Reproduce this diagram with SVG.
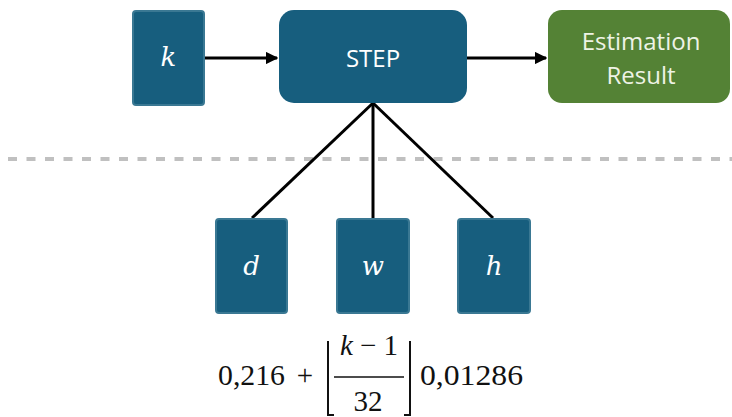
<svg xmlns="http://www.w3.org/2000/svg" width="732" height="417" viewBox="0 0 732 417">
<style>
.var{fill:#175e7e;stroke:#3a7893;stroke-width:2}
.vt{font-family:"DejaVu Serif","Liberation Serif",serif;font-style:italic;font-size:26px;fill:#ffffff;text-anchor:middle}
.lbl{font-family:"Open Sans","Liberation Sans",sans-serif;font-size:24px;text-anchor:middle}
.conn{stroke:#000;stroke-width:3;fill:none}
.math{font-family:"Liberation Serif","DejaVu Serif",serif;font-size:29px;fill:#111}
</style>
<defs>
<marker id="ah" viewBox="0 0 10 10" refX="9" refY="5" markerWidth="4.2" markerHeight="4.2" orient="auto" markerUnits="strokeWidth">
<path d="M0,0 L10,5 L0,10 z" fill="#000"/>
</marker>
</defs>
<line x1="8" y1="159" x2="732" y2="159" stroke="#c0c0c0" stroke-width="4" stroke-dasharray="9,9.5"/>
<g id="connectors">
<line class="conn" x1="204" y1="58" x2="277" y2="58" marker-end="url(#ah)"/>
<line class="conn" x1="467" y1="58" x2="546" y2="58" marker-end="url(#ah)"/>
<line class="conn" x1="373" y1="103" x2="252" y2="218"/>
<line class="conn" x1="373" y1="103" x2="373" y2="218"/>
<line class="conn" x1="373" y1="103" x2="493" y2="218"/>
</g>
<g id="node-k">
<rect class="var" x="133" y="11" width="71" height="94" rx="3"/>
<text class="vt" x="168.5" y="66">k</text>
</g>
<g id="node-step">
<rect x="279" y="10" width="188" height="93" rx="15" fill="#175e7e"/>
<text class="lbl" x="373" y="67" fill="#ffffff">STEP</text>
</g>
<g id="node-result">
<rect x="548" y="10" width="182" height="93" rx="14" fill="#548235"/>
<text class="lbl" x="641" y="50" fill="#eef3e6">Estimation</text>
<text class="lbl" x="641" y="84" fill="#eef3e6">Result</text>
</g>
<g id="node-d">
<rect class="var" x="216" y="219" width="71" height="94" rx="3"/>
<text class="vt" x="251.5" y="275">d</text>
</g>
<g id="node-w">
<rect class="var" x="337" y="219" width="72" height="94" rx="3"/>
<text class="vt" x="373" y="275">w</text>
</g>
<g id="node-h">
<rect class="var" x="458" y="219" width="72" height="94" rx="3"/>
<text class="vt" x="494" y="275">h</text>
</g>
<g id="formula">
<text class="math" x="218" y="385" textLength="67" lengthAdjust="spacingAndGlyphs">0,216</text>
<text class="math" x="305" y="385" text-anchor="middle">+</text>
<path d="M328,341 V415 H334 M410,341 V415 H404" stroke="#111" stroke-width="2" fill="none"/>
<text class="math" x="369" y="355" text-anchor="middle"><tspan font-style="italic">k</tspan> − 1</text>
<line x1="334" y1="377" x2="404" y2="377" stroke="#111" stroke-width="1.5"/>
<text class="math" x="368" y="411" text-anchor="middle">32</text>
<text class="math" x="420" y="385" textLength="103" lengthAdjust="spacingAndGlyphs">0,01286</text>
</g>
</svg>
